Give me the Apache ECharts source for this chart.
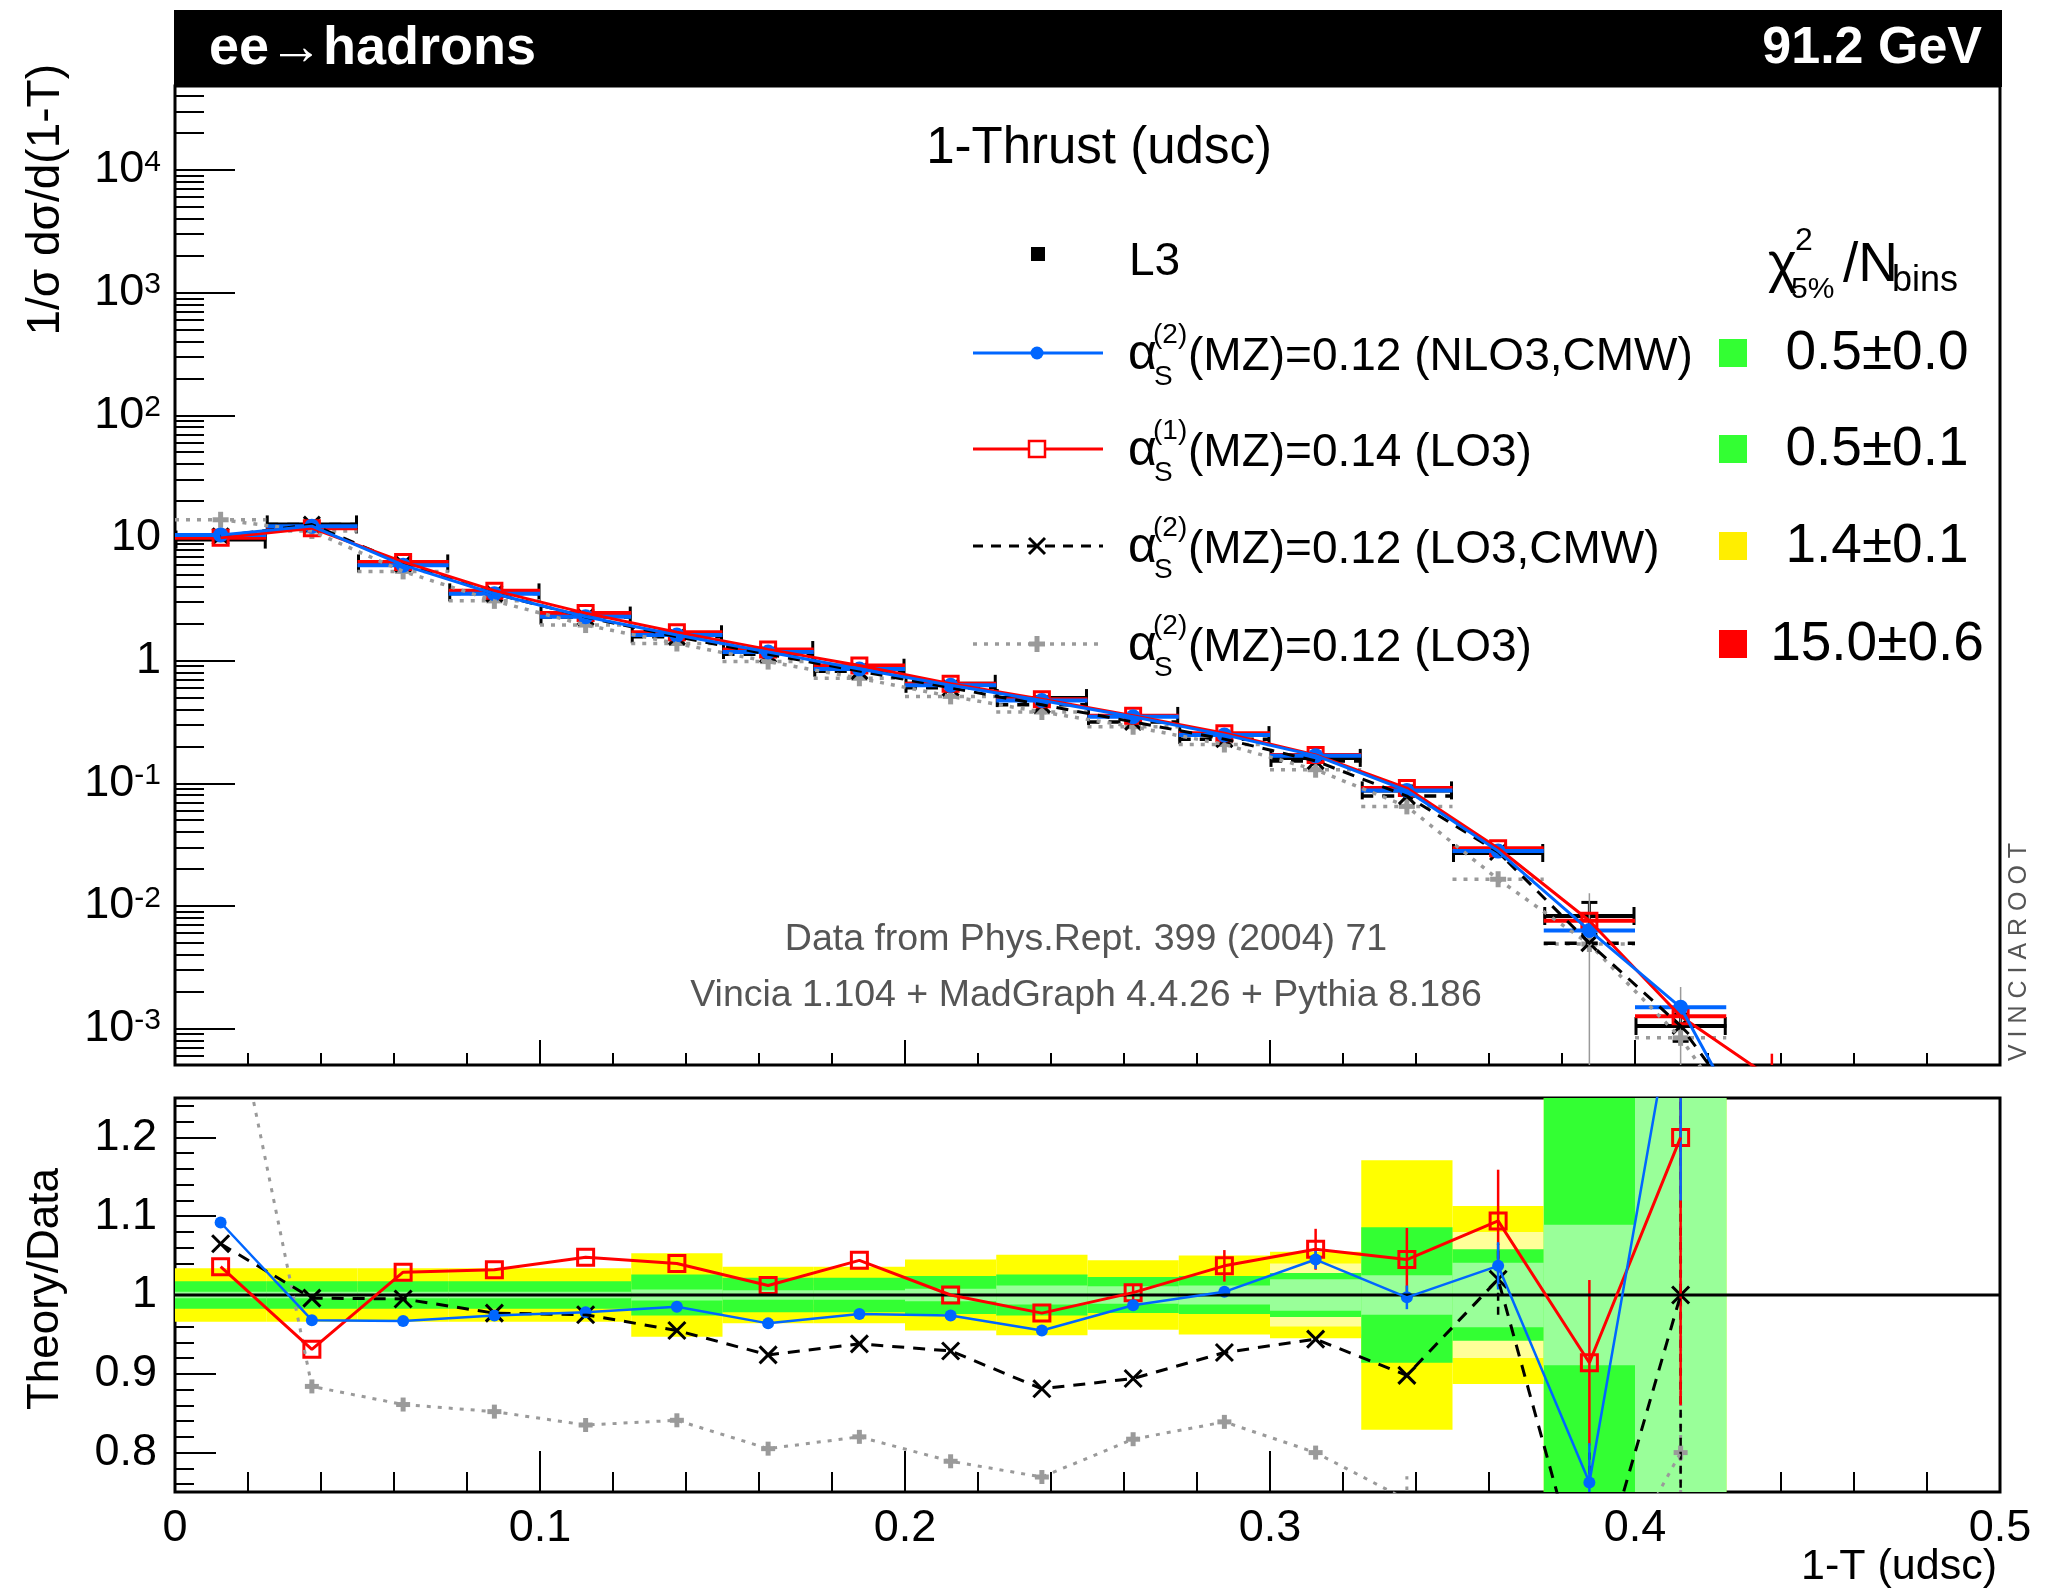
<!DOCTYPE html>
<html>
<head>
<meta charset="utf-8">
<title>1-Thrust (udsc)</title>
<script src="https://cdn.jsdelivr.net/npm/echarts@6.0.0/dist/echarts.min.js"></script>
<style>
html,body{margin:0;padding:0;background:#fff;}
#chart{width:2047px;height:1590px;}
</style>
</head>
<body>
<div id="chart"></div>
<script>
// ------------------------------------------------------------------
// Data
// ------------------------------------------------------------------
const binLow    = [0.000,0.025,0.050,0.075,0.100,0.125,0.150,0.175,0.200,0.225,0.250,0.275,0.300,0.325,0.350,0.375,0.400];
const binHigh   = [0.025,0.050,0.075,0.100,0.125,0.150,0.175,0.200,0.225,0.250,0.275,0.300,0.325,0.350,0.375,0.400,0.425];
const binCenter = [0.0125,0.0375,0.0625,0.0875,0.1125,0.1375,0.1625,0.1875,0.2125,0.2375,0.2625,0.2875,0.3125,0.3375,0.3625,0.3875,0.4125];
// theory curves continue one bin further (below the axis)
const theoryCenter = [0.0125,0.0375,0.0625,0.0875,0.1125,0.1375,0.1625,0.1875,0.2125,0.2375,0.2625,0.2875,0.3125,0.3375,0.3625,0.3875,0.4125,0.4375];

// L3 data: 1/sigma dsigma/d(1-T)
const dataL3    = [9.7,12.9,6.2,3.6,2.33,1.64,1.22,0.875,0.647,0.495,0.354,0.247,0.161,0.0875,0.0270,0.00828,0.00105];
const dataL3Err = [0.02,0.02,0.02,0.02,0.02,0.026,0.022,0.022,0.024,0.026,0.023,0.024,0.028,0.086,0.058,0.29,0.25];

// theory distributions (top panel)
const topBlue  = [10.59,12.49,6.00,3.51,2.28,1.615,1.176,0.854,0.630,0.473,0.349,0.248,0.168,0.0872,0.0280,0.00631,0.00149,0.000065];
const topRed   = [10.05,12.01,6.38,3.72,2.44,1.706,1.235,0.914,0.647,0.484,0.355,0.256,0.170,0.0914,0.0295,0.00757,0.00126,0.00039];
const topBlack = [10.33,12.85,6.17,3.52,2.27,1.566,1.127,0.821,0.601,0.436,0.3165,0.229,0.152,0.0786,0.0275,0.00497,0.00105,0.00010];
const topGray  = [14.07,11.40,5.34,3.07,1.95,1.379,0.982,0.718,0.511,0.381,0.289,0.207,0.129,0.0648,0.0165,0.00489,0.00084,0.00007];
const topGrayErr = [0,0,0,0,0,0,0,0,0,0,0,0,0,0,0,1.6,1.6,0];
const topRedErr  = [0,0,0,0,0,0,0,0,0,0,0,0,0,0,0,0,0,0.6];

// ratios Theory/Data (bottom panel)
const ratioBlue  = [1.092,0.968,0.967,0.974,0.978,0.985,0.964,0.976,0.974,0.955,0.987,1.004,1.045,0.997,1.037,0.762,1.42];
const ratioRed   = [1.036,0.931,1.029,1.032,1.048,1.040,1.012,1.044,1.000,0.977,1.003,1.037,1.058,1.045,1.094,0.914,1.20];
const ratioBlack = [1.065,0.996,0.995,0.977,0.975,0.955,0.924,0.938,0.929,0.881,0.894,0.927,0.944,0.898,1.020,0.60,1.00];
const ratioGray  = [1.45,0.884,0.861,0.852,0.835,0.841,0.805,0.820,0.789,0.769,0.817,0.839,0.800,0.74,0.61,0.59,0.80];
const ratioBlueErr  = [0,0,0,0,0,0,0,0,0,0,0,0,0.012,0.015,0.03,0.05,0.3];
const ratioRedErr   = [0,0,0,0,0,0,0,0,0,0,0.01,0.02,0.026,0.04,0.065,0.105,0.34];
const ratioBlackErr = [0,0,0,0,0,0,0,0,0,0,0,0,0,0,0.045,0.2,0.6];
const ratioGrayErr  = [0,0,0,0,0,0,0,0,0,0,0,0,0,0.03,0,0,0.29];

// data uncertainty bands (half widths around 1)
const bandYellow     = [0.034,0.034,0.034,0.034,0.034,0.053,0.036,0.036,0.045,0.051,0.044,0.050,0.055,0.171,0.113,0.60,1.00];
const bandPaleYellow = [0.008,0.008,0.008,0.008,0.008,0.014,0.012,0.012,0.016,0.024,0.022,0.024,0.040,0.050,0.080,0.18,0.60];
const bandGreen      = [0.0173,0.0173,0.0173,0.0173,0.0173,0.026,0.022,0.022,0.024,0.026,0.023,0.024,0.028,0.086,0.058,0.35,0.60];
const bandLightGreen = [0.004,0.004,0.004,0.004,0.004,0.007,0.006,0.006,0.008,0.012,0.011,0.012,0.020,0.025,0.041,0.089,0.30];

// tick labels
const xTickValues = [0,0.1,0.2,0.3,0.4,0.5];
const yTopMajor = [1e-3,1e-2,1e-1,1,10,100,1e3,1e4];
const yRatioMajor = [0.8,0.9,1.0,1.1,1.2];

// legend
const legendSup    = ['(2)','(1)','(2)','(2)'];
const legendLabels = ['(MZ)=0.12 (NLO3,CMW)','(MZ)=0.14 (LO3)','(MZ)=0.12 (LO3,CMW)','(MZ)=0.12 (LO3)'];
const chi2Values   = ['0.5\u00b10.0','0.5\u00b10.1','1.4\u00b10.1','15.0\u00b10.6'];
const chi2Colors   = ['#33ff33','#33ff33','#ffee00','#ff0000'];

// ------------------------------------------------------------------
const FONT = '"Liberation Sans", Arial, Helvetica, sans-serif';
const BLUE = '#0066ff', RED = '#ff0000', BLACK = '#000000', GRAY = '#9a9a9a';
const LOGMIN = Math.pow(10, -3.297), LOGMAX = Math.pow(10, 4.685);

const yTopMinor = [];
for (let e = -4; e <= 4; e++) for (let k = 2; k <= 9; k++) {
  const v = k * Math.pow(10, e);
  if (v > LOGMIN && v < LOGMAX) yTopMinor.push(v);
}
const yRatioMinor = [];
for (let i = 38; i <= 62; i++) { if (i % 5 !== 0) yRatioMinor.push(i / 50); }

// ---- series builders ----
function hbar(gi, yi, values, style, cap) {
  const data = [];
  for (let i = 0; i < binLow.length; i++) data.push([binLow[i], binHigh[i], values[i]]);
  return {
    type: 'custom', xAxisIndex: gi, yAxisIndex: yi, clip: true, silent: true,
    encode: { x: [0, 1], y: 2 }, data,
    renderItem(p, api) {
      const a = api.coord([api.value(0), api.value(2)]);
      const b = api.coord([api.value(1), api.value(2)]);
      const ch = [{ type: 'line', shape: { x1: a[0], y1: a[1], x2: b[0], y2: b[1] }, style: Object.assign({}, style) }];
      if (cap) {
        ch.push({ type: 'line', shape: { x1: a[0] + 1, y1: a[1] - cap, x2: a[0] + 1, y2: a[1] + cap }, style: { stroke: style.stroke, lineWidth: 3 } });
        ch.push({ type: 'line', shape: { x1: b[0] - 1, y1: b[1] - cap, x2: b[0] - 1, y2: b[1] + cap }, style: { stroke: style.stroke, lineWidth: 3 } });
      }
      return { type: 'group', children: ch };
    }
  };
}
function errbar(gi, yi, xs, vals, errs, isLog, color, width, cap, dash) {
  const data = [];
  for (let i = 0; i < vals.length; i++) {
    if (!errs[i]) continue;
    let lo = isLog ? vals[i] * (1 - errs[i]) : vals[i] - errs[i];
    const hi = isLog ? vals[i] * (1 + errs[i]) : vals[i] + errs[i];
    if (isLog && lo <= 0) lo = 1e-8;
    data.push([xs[i], lo, hi]);
  }
  return {
    type: 'custom', xAxisIndex: gi, yAxisIndex: yi, clip: true, silent: true,
    encode: { x: 0, y: [1, 2] }, data,
    renderItem(p, api) {
      const a = api.coord([api.value(0), api.value(1)]);
      const b = api.coord([api.value(0), api.value(2)]);
      const ch = [{ type: 'line', shape: { x1: a[0], y1: a[1], x2: b[0], y2: b[1] }, style: { stroke: color, lineWidth: width, lineDash: dash || null } }];
      if (cap) {
        ch.push({ type: 'line', shape: { x1: a[0] - cap, y1: a[1], x2: a[0] + cap, y2: a[1] }, style: { stroke: color, lineWidth: 3 } });
        ch.push({ type: 'line', shape: { x1: b[0] - cap, y1: b[1], x2: b[0] + cap, y2: b[1] }, style: { stroke: color, lineWidth: 3 } });
      }
      return { type: 'group', children: ch };
    }
  };
}
function markers(gi, yi, xs, vals, kind, color, size) {
  const data = vals.map((v, i) => [xs[i], v]);
  return {
    type: 'custom', xAxisIndex: gi, yAxisIndex: yi, clip: true, silent: true,
    encode: { x: 0, y: 1 }, data,
    renderItem(p, api) {
      const c = api.coord([api.value(0), api.value(1)]);
      const h = size / 2;
      if (kind === 'circle') return { type: 'circle', shape: { cx: c[0], cy: c[1], r: h }, style: { fill: color } };
      if (kind === 'square') return { type: 'rect', shape: { x: c[0] - h, y: c[1] - h, width: size, height: size }, style: { fill: null, stroke: color, lineWidth: 3 } };
      if (kind === 'x') return { type: 'group', children: [
        { type: 'line', shape: { x1: c[0] - h, y1: c[1] - h, x2: c[0] + h, y2: c[1] + h }, style: { stroke: color, lineWidth: 3 } },
        { type: 'line', shape: { x1: c[0] - h, y1: c[1] + h, x2: c[0] + h, y2: c[1] - h }, style: { stroke: color, lineWidth: 3 } }] };
      return { type: 'group', children: [
        { type: 'line', shape: { x1: c[0] - h, y1: c[1], x2: c[0] + h, y2: c[1] }, style: { stroke: color, lineWidth: 5 } },
        { type: 'line', shape: { x1: c[0], y1: c[1] - h, x2: c[0], y2: c[1] + h }, style: { stroke: color, lineWidth: 5 } }] };
    }
  };
}
function poly(gi, yi, xs, vals, color, width, dash) {
  return {
    type: 'line', xAxisIndex: gi, yAxisIndex: yi, clip: true, silent: true,
    data: vals.map((v, i) => [xs[i], v]), showSymbol: false, symbol: 'none',
    lineStyle: { color, width, type: dash || 'solid', cap: 'butt' }
  };
}
function band(values, color) {
  const data = values.map((h, i) => [binLow[i], binHigh[i], 1 - h, 1 + h]);
  return {
    type: 'custom', xAxisIndex: 1, yAxisIndex: 2, clip: true, silent: true,
    encode: { x: [0, 1], y: [2, 3] }, data,
    renderItem(p, api) {
      const a = api.coord([api.value(0), api.value(3)]);
      const b = api.coord([api.value(1), api.value(2)]);
      return { type: 'rect', shape: { x: a[0], y: a[1], width: b[0] - a[0], height: b[1] - a[1] }, style: { fill: color } };
    }
  };
}

const DASH = [12, 9], DOT = [4, 7];
const series = [
  // ---------- top panel ----------
  hbar(0, 0, dataL3, { stroke: BLACK, lineWidth: 4 }, 9),
  errbar(0, 0, binCenter, dataL3, dataL3Err, true, BLACK, 3, 8),
  hbar(0, 0, topGray, { stroke: GRAY, lineWidth: 3.5, lineDash: DOT }),
  poly(0, 0, theoryCenter, topGray, GRAY, 3.5, DOT),
  errbar(0, 0, theoryCenter, topGray, topGrayErr, true, GRAY, 1.5, 0),
  markers(0, 0, theoryCenter, topGray, 'plus', GRAY, 16),
  hbar(0, 0, topBlack, { stroke: BLACK, lineWidth: 3.5, lineDash: DASH }),
  poly(0, 0, theoryCenter, topBlack, BLACK, 3, DASH),
  markers(0, 0, theoryCenter, topBlack, 'x', BLACK, 16),
  hbar(0, 0, topRed, { stroke: RED, lineWidth: 4 }),
  poly(0, 0, theoryCenter, topRed, RED, 3),
  errbar(0, 0, theoryCenter, topRed, topRedErr, true, RED, 2.5, 0),
  markers(0, 0, theoryCenter, topRed, 'square', RED, 15),
  hbar(0, 0, topBlue, { stroke: BLUE, lineWidth: 4 }),
  poly(0, 0, theoryCenter, topBlue, BLUE, 3),
  markers(0, 0, theoryCenter, topBlue, 'circle', BLUE, 15),
  // ---------- ratio panel ----------
  band(bandYellow, '#ffff00'),
  band(bandPaleYellow, '#ffff99'),
  band(bandGreen, '#33ff33'),
  band(bandLightGreen, '#99ff99'),
  {
    type: 'line', xAxisIndex: 1, yAxisIndex: 2, silent: true, showSymbol: false, symbol: 'none',
    data: [[0, 1], [0.5, 1]], lineStyle: { color: BLACK, width: 3 }
  },
  poly(1, 2, binCenter, ratioGray, GRAY, 3, DOT),
  errbar(1, 2, binCenter, ratioGray, ratioGrayErr, false, GRAY, 3, 0, DOT),
  markers(1, 2, binCenter, ratioGray, 'plus', GRAY, 14),
  poly(1, 2, binCenter, ratioBlack, BLACK, 3, DASH),
  errbar(1, 2, binCenter, ratioBlack, ratioBlackErr, false, BLACK, 2.5, 0, [8, 6]),
  markers(1, 2, binCenter, ratioBlack, 'x', BLACK, 17),
  poly(1, 2, binCenter, ratioRed, RED, 3),
  errbar(1, 2, binCenter, ratioRed, ratioRedErr, false, RED, 2.5, 0),
  markers(1, 2, binCenter, ratioRed, 'square', RED, 16),
  poly(1, 2, binCenter, ratioBlue, BLUE, 2.5),
  errbar(1, 2, binCenter, ratioBlue, ratioBlueErr, false, BLUE, 2.5, 0),
  markers(1, 2, binCenter, ratioBlue, 'circle', BLUE, 12)
];

// ---- axes ----
const tickLine = { color: '#000', width: 2 };
const xAxes = [
  {
    gridIndex: 0, type: 'value', min: 0, max: 0.5, interval: 0.1, position: 'bottom',
    axisLine: { show: false }, axisLabel: { show: false }, splitLine: { show: false },
    axisTick: { show: true, inside: true, length: 25, lineStyle: tickLine },
    minorTick: { show: true, splitNumber: 5, length: 12, lineStyle: tickLine }
  },
  {
    gridIndex: 1, type: 'value', min: 0, max: 0.5, interval: 0.1, position: 'bottom',
    axisLine: { show: false }, splitLine: { show: false },
    axisTick: { show: true, inside: true, length: 41, lineStyle: tickLine },
    minorTick: { show: true, splitNumber: 5, length: 20, lineStyle: tickLine },
    axisLabel: {
      show: true, fontSize: 45, fontFamily: FONT, color: '#000', margin: 14,
      customValues: xTickValues,
      formatter: v => (v === 0 ? '0' : v.toFixed(1))
    }
  }
];
const yAxes = [
  {
    gridIndex: 0, type: 'log', logBase: 10, min: LOGMIN, max: LOGMAX, position: 'left', offset: 0,
    axisLine: { show: false }, splitLine: { show: false }, minorTick: { show: false },
    axisTick: { show: true, inside: true, length: 60, lineStyle: tickLine, customValues: yTopMajor },
    axisLabel: {
      show: true, customValues: yTopMajor, margin: 14, fontSize: 45, fontFamily: FONT, color: '#000',
      formatter: function (v) {
        const e = Math.round(Math.log10(v));
        if (e === 0) return '1';
        if (e === 1) return '10';
        return '{b|10}{s|' + e + '}';
      },
      rich: {
        b: { fontSize: 45, fontFamily: FONT, color: '#000' },
        s: { fontSize: 30, fontFamily: FONT, color: '#000', verticalAlign: 'top' }
      }
    }
  },
  {
    gridIndex: 0, type: 'log', logBase: 10, min: LOGMIN, max: LOGMAX, position: 'left', offset: 0,
    axisLine: { show: false }, splitLine: { show: false }, axisLabel: { show: false },
    axisTick: { show: true, inside: true, length: 29, lineStyle: tickLine, customValues: yTopMinor }
  },
  {
    gridIndex: 1, type: 'value', min: 0.75, max: 1.25, position: 'left', offset: 0,
    axisLine: { show: false }, splitLine: { show: false },
    axisTick: { show: true, inside: true, length: 41, lineStyle: tickLine, customValues: yRatioMajor },
    axisLabel: {
      show: true, customValues: yRatioMajor, margin: 18, fontSize: 45, fontFamily: FONT, color: '#000',
      formatter: v => (Math.abs(v - 1) < 1e-9 ? '1' : v.toFixed(1))
    }
  },
  {
    gridIndex: 1, type: 'value', min: 0.75, max: 1.25, position: 'left', offset: 0,
    axisLine: { show: false }, splitLine: { show: false }, axisLabel: { show: false },
    axisTick: { show: true, inside: true, length: 19, lineStyle: tickLine, customValues: yRatioMinor }
  }
];

// ---- graphics (header, titles, legend) ----
function T(x, y, text, size, o) {
  o = o || {};
  return {
    type: 'text', x, y, rotation: o.rotation || 0, z: o.z || 20, silent: true,
    style: {
      text, fill: o.color || '#000', fontSize: size, fontFamily: FONT, fontWeight: o.bold ? 'bold' : 'normal',
      align: o.align || 'left', textAlign: o.align || 'left',
      verticalAlign: 'middle', textVerticalAlign: 'middle'
    }
  };
}
const rowsY = [357, 453, 550, 648];
const graphics = [
  { type: 'rect', z: 10, silent: true, shape: { x: 174, y: 10, width: 1828, height: 77 }, style: { fill: '#000' } },
  T(209, 49, 'ee\u2192hadrons', 54, { color: '#fff', bold: true, z: 11 }),
  T(1982, 49, '91.2 GeV', 52, { color: '#fff', bold: true, align: 'right', z: 11 }),
  T(46, 64, '1/\u03c3 d\u03c3/d(1-T)', 46, { rotation: Math.PI / 2, align: 'right' }),
  T(46, 1168, 'Theory/Data', 44, { rotation: Math.PI / 2, align: 'right' }),
  T(1997, 1567, '1-T (udsc)', 43, { align: 'right' }),
  T(1099, 149, '1-Thrust (udsc)', 51, { align: 'center' }),
  T(1086, 940, 'Data from Phys.Rept. 399 (2004) 71', 37.5, { align: 'center', color: '#555' }),
  T(1086, 996, 'Vincia 1.104 + MadGraph 4.4.26 + Pythia 8.186', 37.5, { align: 'center', color: '#555' }),
  T(2019, 1061, 'V I N C I A R O O T', 25, { rotation: Math.PI / 2, align: 'left', color: '#555' }),
  // legend header
  { type: 'rect', silent: true, z: 20, shape: { x: 1031, y: 247, width: 14, height: 14 }, style: { fill: '#000' } },
  T(1129, 262, 'L3', 46),
  T(1768, 266, '\u03c7', 55),
  T(1795, 241, '2', 32),
  T(1791, 290, '5%', 30),
  T(1843, 266, '/N', 55),
  T(1892, 281, 'bins', 36)
];
// legend line samples
const sampleStyles = [
  { stroke: BLUE, lineWidth: 3 },
  { stroke: RED, lineWidth: 3 },
  { stroke: BLACK, lineWidth: 3, lineDash: [10, 8] },
  { stroke: GRAY, lineWidth: 3.5, lineDash: [4, 7] }
];
rowsY.forEach((ry, i) => {
  const ly = ry - 4;
  graphics.push({ type: 'line', silent: true, z: 20, shape: { x1: 973, y1: ly, x2: 1103, y2: ly }, style: sampleStyles[i] });
  const mx = 1037;
  if (i === 0) graphics.push({ type: 'circle', silent: true, z: 21, shape: { cx: mx, cy: ly, r: 6.5 }, style: { fill: BLUE } });
  if (i === 1) graphics.push({ type: 'rect', silent: true, z: 21, shape: { x: mx - 8, y: ly - 8, width: 16, height: 16 }, style: { fill: '#fff', stroke: RED, lineWidth: 2.5 } });
  if (i === 2) {
    graphics.push({ type: 'line', silent: true, z: 21, shape: { x1: mx - 8, y1: ly - 8, x2: mx + 8, y2: ly + 8 }, style: { stroke: BLACK, lineWidth: 3 } });
    graphics.push({ type: 'line', silent: true, z: 21, shape: { x1: mx - 8, y1: ly + 8, x2: mx + 8, y2: ly - 8 }, style: { stroke: BLACK, lineWidth: 3 } });
  }
  if (i === 3) {
    graphics.push({ type: 'line', silent: true, z: 21, shape: { x1: mx - 8, y1: ly, x2: mx + 8, y2: ly }, style: { stroke: GRAY, lineWidth: 5 } });
    graphics.push({ type: 'line', silent: true, z: 21, shape: { x1: mx, y1: ly - 8, x2: mx, y2: ly + 8 }, style: { stroke: GRAY, lineWidth: 5 } });
  }
  graphics.push(T(1128, ry - 2, '\u03b1', 50));
  graphics.push(T(1154, ry + 20, 'S', 28));
  graphics.push(T(1153, ry - 22, legendSup[i], 28));
  graphics.push(T(1188, ry, legendLabels[i], 46));
  graphics.push({ type: 'rect', silent: true, z: 20, shape: { x: 1719, y: ly - 14, width: 28, height: 28 }, style: { fill: chi2Colors[i] } });
  graphics.push(T(1877, ry - 3, chi2Values[i], 55, { align: 'center' }));
});

const chart = echarts.init(document.getElementById('chart'), null, { renderer: 'canvas', width: 2047, height: 1590 });
chart.setOption({
  animation: false,
  backgroundColor: '#fff',
  textStyle: { fontFamily: FONT },
  grid: [
    { left: 175, top: 86, width: 1825, height: 979, show: true, borderColor: '#000', borderWidth: 3, backgroundColor: 'rgba(0,0,0,0)', containLabel: false, outerBoundsMode: 'none' },
    { left: 175, top: 1098, width: 1825, height: 394, show: true, borderColor: '#000', borderWidth: 3, backgroundColor: 'rgba(0,0,0,0)', containLabel: false, outerBoundsMode: 'none' }
  ],
  xAxis: xAxes,
  yAxis: yAxes,
  series: series,
  graphic: graphics
});
</script>
</body>
</html>
